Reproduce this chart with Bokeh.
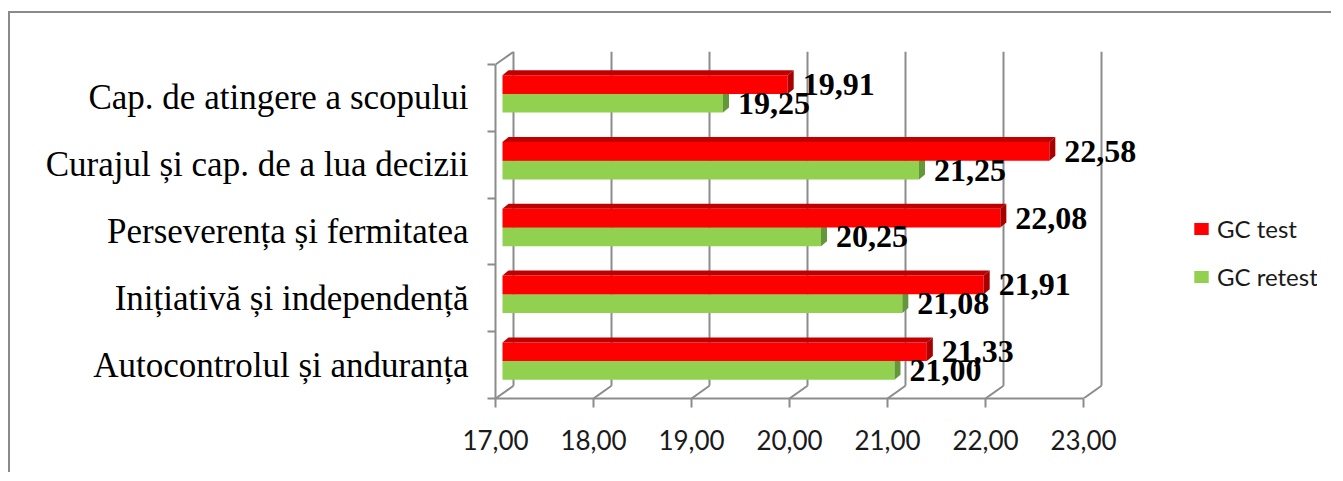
from bokeh.plotting import figure
from bokeh.models import FixedTicker, Legend, LegendItem, ColumnDataSource, Range1d
from bokeh.core.properties import value
from bokeh.embed import file_html
from bokeh.resources import INLINE

# ---- data (bottom to top) ----
categories = [
    "Autocontrolul și anduranța",
    "Inițiativă și independență",
    "Perseverența și fermitatea",
    "Curajul și cap. de a lua decizii",
    "Cap. de atingere a scopului",
]
test_vals = [21.33, 21.91, 22.08, 22.58, 19.91]
retest_vals = [21.00, 21.08, 20.25, 21.25, 19.25]
series_names = ["GC test", "GC retest"]
x_ticks = [17, 18, 19, 20, 21, 22, 23]
x_tick_labels = ["17,00", "18,00", "19,00", "20,00", "21,00", "22,00", "23,00"]

# ---- geometry (pixels -> data units) ----
PX_X = 98.0          # px per x unit
PX_Y = 66.8          # px per category band
FRAME_W = 822
FRAME_H = 347
X0 = x_ticks[0]
X_END = X0 + FRAME_W / PX_X
Y_END = FRAME_H / PX_Y
WALL_DX = 18 / PX_X  # back wall depth
WALL_DY = 12.7 / PX_Y
BAR_OFF = 7 / PX_X   # bars sit a bit behind the front plane
CAP_DX = 6 / PX_X
CAP_DY = 5 / PX_Y
BAR_H = 0.28
RED_POS = 0.70
GREEN_POS = 0.42

RED = "#FF0000"
RED_TOP = "#C00000"
RED_CAP = "#A80000"
GREEN = "#92D050"
GREEN_CAP = "#64973A"
GRID = "#8C8C8C"

n = len(categories)
y_red = [i + RED_POS for i in range(n)]
y_green = [i + GREEN_POS for i in range(n)]

p = figure(
    frame_width=FRAME_W, frame_height=FRAME_H,
    min_border_left=485, min_border_right=14, min_border_top=38, min_border_bottom=74,
    x_range=Range1d(X0, X_END), y_range=Range1d(0, Y_END),
    output_backend="svg", toolbar_location=None,
)
p.outline_line_color = None
p.xgrid.visible = False
p.ygrid.visible = False
p.background_fill_color = "white"
p.border_fill_color = "white"
p.styles = {
    "margin-left": "8px", "margin-top": "11px",
    "border-left": "2px solid #8A8A8A", "border-top": "2px solid #8A8A8A",
}

# ---- back wall gridlines & floor diagonals ----
p.segment(x0=[t + WALL_DX for t in x_ticks], y0=[WALL_DY] * len(x_ticks),
          x1=[t + WALL_DX for t in x_ticks], y1=[Y_END] * len(x_ticks),
          line_color=GRID, line_width=2)
p.segment(x0=x_ticks, y0=[0] * len(x_ticks),
          x1=[t + WALL_DX for t in x_ticks], y1=[WALL_DY] * len(x_ticks),
          line_color=GRID, line_width=2)
p.segment(x0=[X0], y0=[n], x1=[X0 + WALL_DX], y1=[n + WALL_DY],
          line_color=GRID, line_width=2)

# ---- bars ----
def faces(vals, ys):
    top_xs, top_ys, cap_xs, cap_ys = [], [], [], []
    for v, y in zip(vals, ys):
        x0 = X0 + BAR_OFF
        x1 = v + BAR_OFF
        t = y + BAR_H / 2
        b = y - BAR_H / 2
        top_xs.append([x0, x1, x1 + CAP_DX, x0 + CAP_DX])
        top_ys.append([t, t, t + CAP_DY, t + CAP_DY])
        cap_xs.append([x1, x1 + CAP_DX, x1 + CAP_DX, x1])
        cap_ys.append([b, b + CAP_DY, t + CAP_DY, t])
    return top_xs, top_ys, cap_xs, cap_ys

gtx, gty, gcx, gcy = faces(retest_vals, y_green)
r_green = p.hbar(y=y_green, left=X0 + BAR_OFF, right=[v + BAR_OFF for v in retest_vals],
                 height=BAR_H, fill_color=GREEN, line_color=None)
p.patches(gtx, gty, fill_color=GREEN_CAP, line_color=None)
p.patches(gcx, gcy, fill_color=GREEN_CAP, line_color=None)

rtx, rty, rcx, rcy = faces(test_vals, y_red)
r_red = p.hbar(y=y_red, left=X0 + BAR_OFF, right=[v + BAR_OFF for v in test_vals],
               height=BAR_H, fill_color=RED, line_color=None)
p.patches(rtx, rty, fill_color=RED_TOP, line_color=None)
p.patches(rcx, rcy, fill_color=RED_CAP, line_color=None)

# ---- data labels ----
def fmt(v):
    return f"{v:.2f}".replace(".", ",")

for vals, ys in ((retest_vals, y_green), (test_vals, y_red)):
    src = ColumnDataSource(dict(x=vals, y=ys, t=[fmt(v) for v in vals]))
    p.text(x="x", y="y", text="t", source=src, x_offset=22,
           text_font=value("Liberation Serif"), text_font_style="bold",
           text_font_size="32px", text_color="black",
           text_align="left", text_baseline="middle")

# ---- axes ----
xa = p.xaxis[0]
xa.ticker = FixedTicker(ticks=x_ticks, minor_ticks=[])
xa.major_label_overrides = {t: l for t, l in zip(x_ticks, x_tick_labels)}
xa.bounds = (x_ticks[0], x_ticks[-1])
xa.axis_line_color = GRID
xa.axis_line_width = 2
xa.major_tick_line_color = GRID
xa.major_tick_line_width = 2
xa.major_tick_out = 9
xa.major_tick_in = 0
xa.major_label_standoff = 22
xa.major_label_text_font = "Lato"
xa.major_label_text_font_size = "26px"
xa.major_label_text_color = "#1A1A1A"

ya = p.yaxis[0]
ya.ticker = FixedTicker(ticks=[i + 0.5 for i in range(n)], minor_ticks=list(range(n + 1)))
ya.major_label_overrides = {i + 0.5: c for i, c in enumerate(categories)}
ya.bounds = (0, n)
ya.axis_line_color = GRID
ya.axis_line_width = 2
ya.major_tick_line_color = None
ya.major_tick_out = 0
ya.major_tick_in = 0
ya.minor_tick_line_color = GRID
ya.minor_tick_line_width = 2
ya.minor_tick_out = 8
ya.minor_tick_in = 0
ya.major_label_standoff = 19
ya.major_label_text_font = "Liberation Serif"
ya.major_label_text_font_size = "35px"
ya.major_label_text_color = "black"

# ---- legend ----
legend = Legend(
    items=[LegendItem(label=series_names[0], renderers=[r_red]),
           LegendItem(label=series_names[1], renderers=[r_green])],
    location=(697, 107),
    orientation="vertical",
    glyph_width=18, glyph_height=15,
    label_height=30, spacing=18, label_standoff=7,
    padding=0, margin=0,
    border_line_color=None, background_fill_alpha=0,
    label_text_font="Lato", label_text_font_size="24px", label_text_color="#1A1A1A",
)
p.add_layout(legend)

open("out.html", "w").write(file_html(p, INLINE))
